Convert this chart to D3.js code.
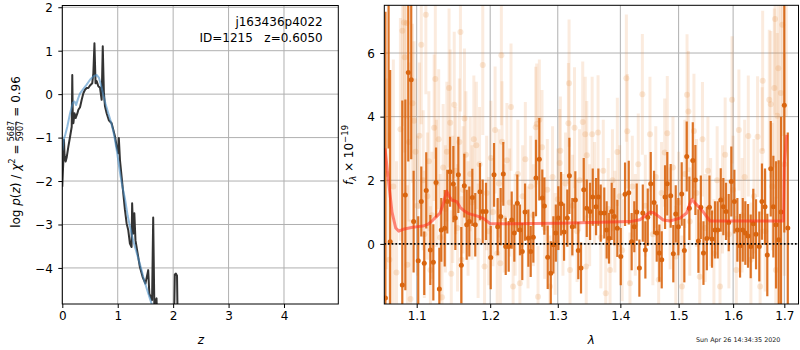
<!DOCTYPE html>
<html>
<head>
<meta charset="utf-8">
<script src="https://cdn.jsdelivr.net/npm/d3@7"></script>
<style>
  body { margin: 0; background: #fff; }
  text { font-family: "DejaVu Sans", sans-serif; }
</style>
</head>
<body>
<div id="chart"></div>
<script>
const WIDTH = 800, HEIGHT = 350;

// ---- left panel: redshift probability ----
const zGrid = [0.000, 0.010, 0.020, 0.030, 0.040, 0.060, 0.080, 0.110, 0.140, 0.170,
  0.180, 0.190, 0.200, 0.220, 0.240, 0.270, 0.290, 0.320, 0.350, 0.380,
  0.410, 0.440, 0.470, 0.500, 0.540, 0.560, 0.580, 0.600, 0.620, 0.650,
  0.680, 0.710, 0.730, 0.750, 0.770, 0.800, 0.840, 0.890, 0.920, 0.950,
  0.980, 1.010, 1.020, 1.040, 1.070, 1.100, 1.130, 1.160, 1.190, 1.220,
  1.250, 1.260, 1.280, 1.300, 1.320, 1.360, 1.400, 1.450, 1.500, 1.550,
  1.570, 1.620, 1.640, 1.660, 1.700, 1.720, 1.800, 2.000, 2.030, 2.050,
  2.070, 2.090, 2.200];
const logPz = [-2.13, -1.80, -1.51, -1.05, -1.40, -1.55, -1.45, -1.20, -0.98, -0.75,
  0.44, -0.60, -0.67, -0.44, -0.55, -0.45, -0.36, -0.30, -0.13, 0.02,
  0.10, 0.14, 0.14, 0.20, 0.25, 0.48, 1.17, 0.25, 0.30, 0.18,
  0.15, -0.13, 1.10, 0.05, -0.28, -0.44, -0.60, -0.67, -0.82, -0.97,
  -1.20, -1.36, -1.01, -1.51, -1.90, -2.28, -2.66, -2.97, -3.13, -3.44,
  -3.52, -2.51, -3.21, -2.74, -3.36, -3.67, -3.98, -4.21, -4.36, -4.05,
  -4.59, -4.74, -2.84, -4.83, -4.70, -5.50, -6.50, -6.50, -4.15, -4.13,
  -4.18, -6.00, -7.00];

const zFit = [0.00, 0.03, 0.05, 0.09, 0.14, 0.19, 0.22, 0.25, 0.28, 0.32,
  0.38, 0.44, 0.50, 0.56, 0.62, 0.66, 0.70, 0.74, 0.78, 0.83,
  0.88, 0.92, 0.95, 0.99, 1.02, 1.05, 1.08, 1.13, 1.18, 1.23,
  1.28, 1.33, 1.38, 1.43, 1.48, 1.53, 1.58, 1.63, 1.70];
const logPzFit = [-1.30, -1.02, -0.95, -0.75, -0.44, -0.20, -0.17, -0.25, -0.12, 0.02,
  0.12, 0.22, 0.33, 0.41, 0.44, 0.38, 0.20, -0.02, -0.22, -0.44,
  -0.65, -0.85, -1.05, -1.35, -1.62, -1.88, -2.10, -2.40, -2.80, -3.10,
  -3.38, -3.60, -3.82, -4.05, -4.30, -4.50, -4.70, -4.90, -5.20];

const zTicks = [0, 1, 2, 3, 4];
const pzTicks = [-4, -3, -2, -1, 0, 1, 2];

// ---- right panel: spectrum ----
const specWave = [1.0600, 1.0640, 1.0660, 1.0814, 1.0853, 1.0891, 1.0929, 1.0960, 1.1020, 1.1060,
  1.1099, 1.1125, 1.1179, 1.1219, 1.1255, 1.1299, 1.1325, 1.1371, 1.1406, 1.1443,
  1.1488, 1.1515, 1.1556, 1.1597, 1.1638, 1.1671, 1.1707, 1.1749, 1.1790, 1.1856,
  1.1894, 1.1941, 1.2008, 1.2055, 1.2107, 1.2150, 1.2188, 1.2223, 1.2266, 1.2310,
  1.2348, 1.2392, 1.2431, 1.2465, 1.2506, 1.2555, 1.2590, 1.2629, 1.2669, 1.2719,
  1.2764, 1.2795, 1.2846, 1.2893, 1.2933, 1.2970, 1.3009, 1.3051, 1.3097, 1.3148,
  1.3180, 1.3226, 1.3273, 1.3320, 1.3363, 1.3406, 1.3454, 1.3507, 1.3550, 1.3603,
  1.3640, 1.3678, 1.3736, 1.3775, 1.3813, 1.3857, 1.3900, 1.3950, 1.4007, 1.4078,
  1.4140, 1.4189, 1.4233, 1.4274, 1.4319, 1.4377, 1.4421, 1.4462, 1.4513, 1.4570,
  1.4616, 1.4661, 1.4703, 1.4761, 1.4800, 1.4860, 1.4906, 1.4949, 1.4995, 1.5055,
  1.5102, 1.5145, 1.5192, 1.5254, 1.5301, 1.5356, 1.5400, 1.5448, 1.5510, 1.5558,
  1.5605, 1.5661, 1.5711, 1.5767, 1.5816, 1.5866, 1.5917, 1.5966, 1.6024, 1.6081,
  1.6132, 1.6184, 1.6233, 1.6285, 1.6337, 1.6387, 1.6440, 1.6504, 1.6556, 1.6616,
  1.6661, 1.6729, 1.6781, 1.6834, 1.6887, 1.6934, 1.7000, 1.7070];
const specFlux = [-1.70, 8.50, 0.07, -1.29, 1.54, 5.39, 5.16, 0.70, -0.53, 1.33,
  -0.61, 1.68, -0.19, -0.58, 1.93, -1.42, 0.44, 0.49, 1.33, 2.27,
  1.88, 0.81, 2.17, -0.67, 1.83, 0.60, 0.70, 1.46, 0.60, 1.64,
  1.02, 1.02, -0.43, 2.17, 0.54, 0.86, 2.20, -0.08, -0.08, 0.75,
  0.34, 1.28, 0.44, -0.24, 1.00, 0.18, -0.24, 0.21, 2.07, 2.66,
  1.44, 1.19, -0.42, -0.92, -0.03, 0.34, 0.81, 1.26, 0.37, 0.81,
  2.14, 0.54, 1.38, -0.21, -0.76, 1.70, 1.12, 1.02, 1.47, 1.17,
  1.47, 0.97, 0.97, 0.44, 0.18, 1.02, 0.86, 0.49, -0.40, 1.56,
  1.61, 0.07, 0.54, 1.00, -0.76, 0.97, -0.19, 0.84, 1.89, 1.30,
  0.34, -0.29, -0.50, 1.47, 1.89, 1.51, -0.31, 0.94, 0.54, 1.57,
  -0.21, 2.75, 1.12, 2.62, 2.01, 0.09, 1.15, -0.29, 0.17, 1.15,
  0.15, 0.44, 0.44, 1.38, 1.17, 1.02, 0.67, 1.96, 1.33, 0.44,
  -0.06, 0.44, 0.34, 0.25, -0.08, 0.63, 0.30, -0.08, 1.33, 1.17,
  -0.35, 2.36, 1.17, 0.60, 0.13, 1.00, 4.36, 0.50];
const specErr = [9.0, 5.5, 5.4, 5.8, 3.0, 2.8, 2.5, 1.6, 1.4, 1.1,
  1.0, 1.2, 1.1, 1.2, 1.1, 1.3, 1.0, 1.2, 1.0, 1.1,
  1.2, 1.0, 1.2, 1.2, 1.0, 1.1, 1.1, 0.9, 1.0, 0.9,
  1.0, 0.9, 1.0, 1.0, 0.9, 0.9, 1.0, 0.9, 0.8, 0.9,
  0.9, 0.9, 0.8, 0.9, 0.9, 0.9, 0.8, 0.8, 1.2, 1.3,
  0.9, 0.9, 1.0, 1.0, 0.9, 0.9, 1.0, 1.0, 0.9, 0.9,
  1.2, 0.9, 0.9, 0.9, 0.8, 1.0, 0.9, 0.9, 0.9, 0.9,
  0.9, 0.9, 0.8, 0.9, 0.8, 0.9, 0.9, 0.9, 0.9, 1.0,
  1.0, 0.9, 0.8, 0.9, 0.9, 0.9, 0.9, 0.9, 1.0, 1.0,
  0.9, 0.9, 0.9, 1.0, 1.0, 1.0, 0.9, 0.9, 0.9, 1.0,
  1.0, 1.1, 1.0, 1.2, 1.1, 1.0, 1.0, 1.0, 1.0, 1.0,
  0.9, 0.9, 0.9, 1.0, 0.9, 0.9, 0.9, 1.1, 1.0, 1.0,
  1.0, 1.0, 1.0, 1.0, 1.0, 1.1, 1.1, 1.1, 1.2, 1.2,
  1.3, 1.5, 1.6, 2.0, 2.5, 3.0, 4.0, 3.0];

const rawWave = [1.0610, 1.0650, 1.0700, 1.0740, 1.0790, 1.0815, 1.0835, 1.0845, 1.0870, 1.0880,
  1.0900, 1.0920, 1.0945, 1.0965, 1.0985, 1.1010, 1.1035, 1.1060, 1.1085, 1.1100,
  1.1120, 1.1140, 1.1160, 1.1180, 1.1200, 1.1230, 1.1245, 1.1260, 1.1290, 1.1310,
  1.1335, 1.1350, 1.1380, 1.1400, 1.1430, 1.1445, 1.1460, 1.1480, 1.1500, 1.1520,
  1.1545, 1.1570, 1.1585, 1.1600, 1.1620, 1.1640, 1.1660, 1.1690, 1.1720, 1.1745,
  1.1770, 1.1805, 1.1830, 1.1850, 1.1895, 1.1920, 1.1950, 1.1980, 1.2010, 1.2040,
  1.2070, 1.2100, 1.2125, 1.2145, 1.2160, 1.2170, 1.2200, 1.2240, 1.2280, 1.2300,
  1.2330, 1.2360, 1.2400, 1.2430, 1.2470, 1.2510, 1.2550, 1.2590, 1.2630, 1.2665,
  1.2680, 1.2700, 1.2720, 1.2760, 1.2800, 1.2840, 1.2880, 1.2920, 1.2960, 1.3000,
  1.3030, 1.3040, 1.3080, 1.3120, 1.3165, 1.3175, 1.3190, 1.3230, 1.3260, 1.3300,
  1.3340, 1.3390, 1.3430, 1.3445, 1.3455, 1.3500, 1.3540, 1.3580, 1.3635, 1.3680,
  1.3720, 1.3760, 1.3800, 1.3830, 1.3870, 1.3910, 1.3950, 1.3990, 1.4030, 1.4100,
  1.4115, 1.4160, 1.4200, 1.4250, 1.4300, 1.4370, 1.4420, 1.4500, 1.4550, 1.4600,
  1.4650, 1.4700, 1.4755, 1.4800, 1.4850, 1.4900, 1.4950, 1.5000, 1.5060, 1.5110,
  1.5150, 1.5175, 1.5200, 1.5275, 1.5320, 1.5380, 1.5430, 1.5480, 1.5530, 1.5580,
  1.5640, 1.5700, 1.5754, 1.5800, 1.5850, 1.5920, 1.5980, 1.6000, 1.6060, 1.6110,
  1.6170, 1.6220, 1.6290, 1.6340, 1.6400, 1.6470, 1.6520, 1.6560, 1.6570, 1.6620,
  1.6700, 1.6730, 1.6760, 1.6800, 1.6815, 1.6830, 1.6860, 1.6880, 1.6930, 1.6960,
  1.7000, 1.7040];
const rawFlux = [2.20, -0.50, 1.80, -0.90, 3.60, 6.70, 6.96, 5.87, 6.94, -0.66,
  3.20, -1.73, 4.42, 3.87, 2.90, 1.20, 3.40, 6.26, 2.00, 0.30,
  7.20, 1.50, 2.60, -0.82, 0.90, 3.65, 5.18, 1.90, 3.29, 0.20,
  -1.68, 2.40, 1.10, 2.90, 4.90, 3.81, -0.94, 1.40, 4.37, 2.30,
  0.50, 3.20, 6.66, -0.50, 1.70, 3.94, 2.80, 0.80, 2.20, 1.30,
  3.29, 3.10, 0.10, 2.50, 5.62, -0.71, 1.60, 0.40, 2.70, 1.00,
  3.58, -0.30, 1.90, -0.61, 5.93, 3.21, 0.80, 2.63, 1.30, 4.30,
  -1.34, 0.60, 2.20, -1.24, 1.50, 2.66, 0.20, 1.80, 0.90, 3.67,
  3.77, -1.66, 3.90, 3.04, 0.50, 1.70, -1.34, 2.10, 0.00, 1.40,
  2.54, 2.93, 0.60, 1.90, 3.79, 5.05, -0.82, 1.20, 3.65, 0.40,
  2.00, 3.83, 3.45, -0.71, 2.79, 0.90, 3.45, 1.60, 3.50, 0.20,
  2.30, -1.55, 1.10, -0.82, 2.00, 0.70, 2.89, 1.50, -0.20, 5.21,
  3.54, -1.24, 1.80, 0.60, 2.50, 4.70, 1.20, 3.45, 0.30, 2.10,
  -1.13, 1.60, 2.87, 3.48, 0.80, 2.40, -0.40, 1.30, -1.34, 2.20,
  4.69, 4.16, 0.70, 3.55, 1.60, -1.03, 3.29, 0.50, 2.30, 1.00,
  -0.30, 2.00, -1.34, 1.40, 2.80, 0.30, 4.53, 1.70, -0.82, 3.58,
  0.90, 2.10, 3.39, -0.50, 1.50, 3.37, -1.34, 2.92, 5.13, 0.40,
  4.53, 4.39, 1.80, 4.90, 7.07, -0.82, 4.03, 5.52, 4.74, 6.89,
  2.50, 8.00];
const rawErr = [3.0, 4.0, 4.0, 3.5, 3.5, 3.0, 3.0, 3.0, 3.0, 2.5,
  2.5, 2.5, 2.5, 2.5, 2.3, 2.2, 2.3, 2.5, 2.2, 2.0,
  2.5, 2.0, 2.2, 2.0, 2.0, 2.3, 2.5, 2.0, 2.2, 2.0,
  2.0, 2.0, 2.0, 2.2, 2.5, 2.3, 2.0, 2.0, 2.3, 2.0,
  2.0, 2.0, 2.5, 2.0, 2.0, 2.2, 2.0, 1.8, 1.8, 1.8,
  2.0, 2.0, 1.8, 1.8, 2.2, 1.8, 1.8, 1.7, 1.8, 1.7,
  2.0, 1.7, 1.7, 1.7, 2.2, 1.9, 1.7, 1.8, 1.7, 2.0,
  1.6, 1.6, 1.7, 1.6, 1.6, 1.8, 1.6, 1.6, 1.6, 1.9,
  1.9, 1.6, 1.9, 1.8, 1.6, 1.6, 1.6, 1.6, 1.6, 1.6,
  1.7, 1.7, 1.6, 1.6, 1.9, 2.0, 1.6, 1.6, 1.9, 1.6,
  1.6, 1.9, 1.8, 1.6, 1.7, 1.6, 1.8, 1.6, 1.8, 1.6,
  1.6, 1.6, 1.6, 1.6, 1.6, 1.6, 1.7, 1.6, 1.6, 2.0,
  1.8, 1.6, 1.6, 1.6, 1.6, 1.9, 1.6, 1.8, 1.6, 1.6,
  1.6, 1.6, 1.7, 1.8, 1.6, 1.6, 1.6, 1.6, 1.6, 1.7,
  1.9, 1.9, 1.7, 1.8, 1.7, 1.7, 1.8, 1.7, 1.7, 1.7,
  1.7, 1.7, 1.7, 1.7, 1.8, 1.7, 2.0, 1.7, 1.7, 1.9,
  1.8, 1.8, 1.9, 1.8, 1.8, 1.9, 1.8, 2.0, 2.2, 1.9,
  2.2, 2.3, 2.0, 2.5, 3.0, 2.3, 2.6, 3.0, 3.0, 3.5,
  3.5, 4.0];

const modelWave = [1.0595, 1.0629, 1.0683, 1.0730, 1.0770, 1.0840, 1.0950, 1.1043, 1.1082, 1.1150,
  1.1214, 1.1270, 1.1308, 1.1350, 1.1398, 1.1430, 1.1465, 1.1534, 1.1580, 1.1624,
  1.1700, 1.1810, 1.1903, 1.1997, 1.2200, 1.3035, 1.4161, 1.4329, 1.4430, 1.4500,
  1.4560, 1.4616, 1.4730, 1.4848, 1.5025, 1.5144, 1.5200, 1.5235, 1.5295, 1.5370,
  1.5445, 1.5569, 1.6981, 1.7000, 1.7049];
const modelFlux = [3.00, 2.20, 1.00, 0.50, 0.40, 0.47, 0.52, 0.55, 0.56, 0.62,
  0.75, 0.88, 0.97, 1.25, 1.66, 1.50, 1.38, 1.33, 1.15, 1.06,
  0.95, 0.88, 0.80, 0.64, 0.63, 0.65, 0.70, 0.76, 0.90, 1.00,
  0.98, 0.91, 0.75, 0.72, 0.81, 0.97, 1.25, 1.40, 1.28, 1.15,
  1.00, 0.72, 0.72, 2.50, 3.43];

const waveTicks = [1.1, 1.2, 1.3, 1.4, 1.5, 1.6, 1.7];
const fluxTicks = [0, 2, 4, 6];

const svg = d3.select("#chart").append("svg")
  .attr("width", WIDTH).attr("height", HEIGHT);

const defs = svg.append("defs");

function addClip(id, x0, y0, x1, y1) {
  defs.append("clipPath").attr("id", id)
    .append("rect").attr("x", x0).attr("y", y0)
    .attr("width", x1 - x0).attr("height", y1 - y0);
}

function gridAndFrame(g, x, y, xt, yt) {
  const [x0, x1] = x.range(), [y0, y1] = y.range();
  g.append("g").selectAll("line").data(xt).join("line")
    .attr("x1", d => x(d)).attr("x2", d => x(d))
    .attr("y1", y0).attr("y2", y1)
    .attr("stroke", "#b0b0b0").attr("stroke-width", 1);
  g.append("g").selectAll("line").data(yt).join("line")
    .attr("x1", x0).attr("x2", x1)
    .attr("y1", d => y(d)).attr("y2", d => y(d))
    .attr("stroke", "#b0b0b0").attr("stroke-width", 1);
}

function axes(g, x, y, xt, yt, xfmt, yfmt) {
  const [x0, x1] = x.range(), [y0, y1] = y.range();
  const xa = g.append("g").attr("transform", "translate(0," + y0 + ")")
    .call(d3.axisBottom(x).tickValues(xt).tickFormat(xfmt).tickSize(4).tickPadding(11.5));
  const ya = g.append("g").attr("transform", "translate(" + x0 + ",0)")
    .call(d3.axisLeft(y).tickValues(yt).tickFormat(yfmt).tickSize(4).tickPadding(5.5));
  [xa, ya].forEach(a => {
    a.select(".domain").remove();
    a.selectAll("text").attr("font-size", 12).attr("fill", "#000")
      .attr("font-family", "DejaVu Sans");
    a.selectAll("line").attr("stroke", "#000").attr("stroke-width", 1);
  });
  xa.selectAll("text").attr("dy", 0);
  ya.selectAll("text").attr("dy", "0.36em");
  g.append("rect").attr("x", x0).attr("y", y1)
    .attr("width", x1 - x0).attr("height", y0 - y1)
    .attr("fill", "none").attr("stroke", "#000").attr("stroke-width", 1);
}

const minus = d => String(d).replace("-", "\u2212");

// ================= left panel =================
const zx = d3.scaleLinear().domain([0, 4.98]).range([62.3, 338.3]);
const zy = d3.scaleLinear().domain([-4.83, 2.04]).range([304, 5.5]);
addClip("clipL", 62.3, 5.5, 338.3, 304);

const left = svg.append("g");
gridAndFrame(left, zx, zy, zTicks, pzTicks);

const pzLine = d3.line().x(d => zx(d[0])).y(d => zy(d[1]));
const pl = left.append("g").attr("clip-path", "url(#clipL)");
pl.append("path").datum(d3.zip(zGrid, logPz))
  .attr("d", pzLine).attr("fill", "none")
  .attr("stroke", "#333333").attr("stroke-width", 2).attr("stroke-linejoin", "round");
pl.append("path").datum(d3.zip(zFit, logPzFit))
  .attr("d", pzLine).attr("fill", "none")
  .attr("stroke", "#4a90c8").attr("stroke-opacity", 0.6)
  .attr("stroke-width", 2).attr("stroke-linejoin", "round");

axes(left, zx, zy, zTicks, pzTicks, d => d, minus);

left.append("text").attr("x", 322.7).attr("y", 26).attr("text-anchor", "end")
  .attr("font-size", 12).text("j163436p4022");
left.append("text").attr("x", 322.7).attr("y", 42).attr("text-anchor", "end")
  .attr("font-size", 12).style("white-space", "pre").text("ID=1215   z=0.6050");

left.append("text").attr("x", zx(2.5)).attr("y", 344).attr("text-anchor", "middle")
  .attr("font-size", 12).attr("font-style", "italic").text("z");

// rotated y label with a fraction
const yl = svg.append("g").attr("transform", "translate(20,152) rotate(-90)");
const inner = yl.append("g");
const t1 = inner.append("text").attr("font-size", 12).attr("x", 0).attr("y", 0)
  .style("white-space", "pre");
t1.append("tspan").text("log ");
t1.append("tspan").attr("font-style", "italic").text("p");
t1.append("tspan").text("(");
t1.append("tspan").attr("font-style", "italic").text("z");
t1.append("tspan").text(") / ");
t1.append("tspan").attr("font-style", "italic").text("\u03c7");
t1.append("tspan").attr("font-size", 8.5).attr("dy", -5).text("2");
t1.append("tspan").attr("dy", 5).text(" = ");
const w1 = t1.node().getComputedTextLength();
const fw = 19;
inner.append("text").attr("x", w1 + fw / 2).attr("y", -6).attr("font-size", 8)
  .attr("text-anchor", "middle").text("5687");
inner.append("text").attr("x", w1 + fw / 2).attr("y", 2.6).attr("font-size", 8)
  .attr("text-anchor", "middle").text("5907");
inner.append("line").attr("x1", w1 + 0.5).attr("x2", w1 + fw - 0.5)
  .attr("y1", -4.3).attr("y2", -4.3).attr("stroke", "#000").attr("stroke-width", 0.7);
const t3 = inner.append("text").attr("font-size", 12).attr("x", w1 + fw + 1).attr("y", 0)
  .style("white-space", "pre").text(" = 0.96");
const wTot = w1 + fw + 1 + t3.node().getComputedTextLength();
inner.attr("transform", "translate(" + (-wTot / 2) + ",0)");

// ================= right panel =================
const wx = d3.scaleLog().domain([1.0586, 1.7288]).range([384.3, 798.5]);
const fy = d3.scaleLinear().domain([-1.89, 7.5]).range([304, 5.3]);
addClip("clipR", 384.3, 5.3, 798.5, 304);

const right = svg.append("g");
gridAndFrame(right, wx, fy, waveTicks, fluxTicks);

const pr = right.append("g").attr("clip-path", "url(#clipR)");
const rawPts = d3.zip(rawWave, rawFlux, rawErr);
const specPts = d3.zip(specWave, specFlux, specErr);
const ORANGE = "#d9650f";

const rawG = pr.append("g");
rawG.selectAll("line").data(rawPts).join("line")
  .attr("x1", d => wx(d[0])).attr("x2", d => wx(d[0]))
  .attr("y1", d => fy(d[1] - d[2])).attr("y2", d => fy(d[1] + d[2]))
  .attr("stroke", "#e88a3c").attr("stroke-opacity", 0.17).attr("stroke-width", 3);
rawG.selectAll("circle").data(rawPts).join("circle")
  .attr("cx", d => wx(d[0])).attr("cy", d => fy(d[1])).attr("r", 3)
  .attr("fill", "#e88a3c").attr("fill-opacity", 0.2);

const specG = pr.append("g");
specG.selectAll("line").data(specPts).join("line")
  .attr("x1", d => wx(d[0])).attr("x2", d => wx(d[0]))
  .attr("y1", d => fy(d[1] - d[2])).attr("y2", d => fy(d[1] + d[2]))
  .attr("stroke", ORANGE).attr("stroke-opacity", 0.9).attr("stroke-width", 2.2);
specG.selectAll("circle").data(specPts).join("circle")
  .attr("cx", d => wx(d[0])).attr("cy", d => fy(d[1])).attr("r", 2.5)
  .attr("fill", ORANGE);

pr.append("path").datum(d3.zip(modelWave, modelFlux))
  .attr("d", d3.line().x(d => wx(d[0])).y(d => fy(d[1])))
  .attr("fill", "none").attr("stroke", "#ff2a1a").attr("stroke-opacity", 0.55)
  .attr("stroke-width", 3).attr("stroke-linejoin", "round");

pr.append("line").attr("x1", 384.3).attr("x2", 798.5)
  .attr("y1", fy(0)).attr("y2", fy(0))
  .attr("stroke", "#000").attr("stroke-width", 1.6).attr("stroke-dasharray", "1.6,2.1");

axes(right, wx, fy, waveTicks, fluxTicks, d3.format(".1f"), minus);

right.append("text").attr("x", (384.3 + 798.5) / 2).attr("y", 344).attr("text-anchor", "middle")
  .attr("font-size", 12).attr("font-style", "italic").text("\u03bb");

const fl = right.append("text").attr("font-size", 12).attr("text-anchor", "middle")
  .attr("transform", "translate(353,155) rotate(-90)");
fl.append("tspan").attr("font-style", "italic").text("f");
fl.append("tspan").attr("font-style", "italic").attr("font-size", 8.5).attr("dy", 3).text("\u03bb");
fl.append("tspan").attr("dy", -3).text(" \u00d7 10");
fl.append("tspan").attr("font-size", 8.5).attr("dy", -5).text("\u221219");

svg.append("text").attr("x", 696).attr("y", 342).attr("font-size", 6.4)
  .attr("fill", "#222").text("Sun Apr 26 14:34:35 2020");
</script>
</body>
</html>
